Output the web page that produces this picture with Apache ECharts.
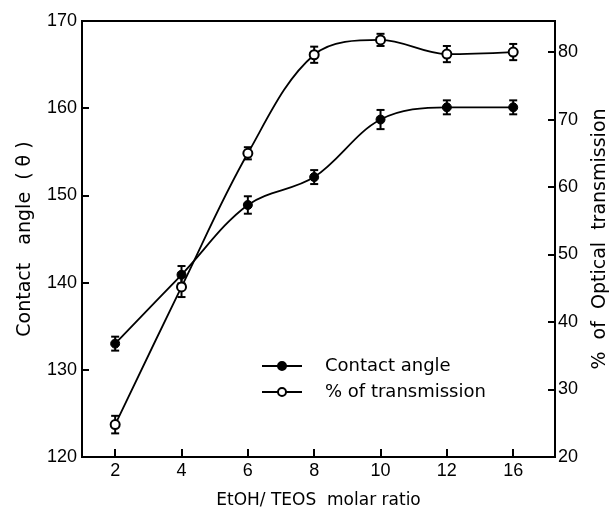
<!DOCTYPE html>
<html>
<head>
<meta charset="utf-8">
<script src="https://cdn.jsdelivr.net/npm/echarts@6/dist/echarts.min.js"></script>
<style>
  html, body { margin: 0; padding: 0; background: #fff; }
  #chart { width: 610px; height: 510px; }
</style>
</head>
<body>
<div id="chart"></div>
<script>
// EtOH/TEOS molar ratio (placed evenly, like the original plot)
var categories = ['2', '4', '6', '8', '10', '12', '16']
// contact angle (left axis) and its error
var contactAngle = [133.0, 140.9, 148.9, 152.1, 158.7, 160.1, 160.1]
var contactErr = [0.8, 1.0, 1.0, 0.8, 1.1, 0.8, 0.8]
// % of optical transmission (right axis) and its error
var transmission = [24.8, 45.2, 65.0, 79.6, 81.8, 79.7, 80.0]
var transErr = [1.3, 1.5, 0.9, 1.2, 0.9, 1.2, 1.2]

var FONT = 'DejaVu Sans'
var TICKFONT = 'Liberation Sans'

function pairs (vals) {
  return vals.map(function (v, i) { return [i, v] })
}
function errData (vals, errs) {
  return vals.map(function (v, i) { return [i, v, errs[i]] })
}
function renderErr (params, api) {
  var x = api.value(0)
  var y = api.value(1)
  var e = api.value(2)
  var lo = api.coord([x, y - e])
  var hi = api.coord([x, y + e])
  var w = 4
  var st = { stroke: '#000', lineWidth: 2 }
  return {
    type: 'group',
    children: [
      { type: 'line', shape: { x1: lo[0], y1: lo[1], x2: hi[0], y2: hi[1] }, style: st },
      { type: 'line', shape: { x1: lo[0] - w, y1: lo[1], x2: lo[0] + w, y2: lo[1] }, style: st },
      { type: 'line', shape: { x1: hi[0] - w, y1: hi[1], x2: hi[0] + w, y2: hi[1] }, style: st }
    ]
  }
}

var idx = categories.map(function (c, i) { return i })

var chart = echarts.init(document.getElementById('chart'))
var option = {
  animation: false,
  textStyle: { fontFamily: FONT, color: '#000' },
  grid: {
    left: 82, right: 55, top: 21, bottom: 53,
    containLabel: false,
    outerBoundsMode: 'none',
    show: true, borderColor: '#000', borderWidth: 2
  },
  legend: {
    orient: 'vertical',
    left: 256,
    top: 352,
    itemWidth: 40,
    itemHeight: 10,
    itemGap: 8,
    textStyle: { fontFamily: FONT, fontSize: 18, color: '#000', padding: [0, 0, 0, 18] },
    data: ['Contact angle', '% of transmission']
  },
  xAxis: {
    type: 'value',
    min: -0.5,
    max: 6.63,
    interval: 1,
    name: 'EtOH/ TEOS  molar ratio',
    nameLocation: 'middle',
    nameGap: 35,
    nameTextStyle: { fontFamily: FONT, fontSize: 17, color: '#000' },
    axisLine: { onZero: false, lineStyle: { color: '#000', width: 2 } },
    axisTick: {
      inside: true, length: 8, lineStyle: { color: '#000', width: 2 },
      customValues: idx
    },
    axisLabel: {
      fontFamily: TICKFONT, fontSize: 18, color: '#000', margin: 5,
      customValues: idx,
      formatter: function (v) { return categories[Math.round(v)] }
    },
    splitLine: { show: false }
  },
  yAxis: [
    {
      type: 'value',
      min: 120,
      max: 170,
      interval: 10,
      name: 'Contact   angle  ( θ )',
      nameLocation: 'middle',
      nameGap: 47,
      nameRotate: 90,
      nameTextStyle: { fontFamily: FONT, fontSize: 19, color: '#000' },
      axisLine: { show: true, onZero: false, lineStyle: { color: '#000', width: 2 } },
      axisTick: { show: true, inside: true, length: 7, lineStyle: { color: '#000', width: 2 } },
      axisLabel: { fontFamily: TICKFONT, fontSize: 18, color: '#000', margin: 5 },
      splitLine: { show: false }
    },
    {
      type: 'value',
      position: 'right',
      min: 20,
      max: 84.6,
      interval: 10,
      name: '%  of  Optical  transmission',
      nameLocation: 'middle',
      nameGap: 36,
      nameRotate: 90,
      nameTextStyle: { fontFamily: FONT, fontSize: 19, color: '#000' },
      axisLine: { show: true, onZero: false, lineStyle: { color: '#000', width: 2 } },
      axisTick: { show: true, inside: true, length: 7, lineStyle: { color: '#000', width: 2 } },
      axisLabel: {
        fontFamily: TICKFONT, fontSize: 18, color: '#000', margin: 3,
        formatter: function (v) { return v % 10 === 0 ? String(v) : '' }
      },
      splitLine: { show: false }
    }
  ],
  series: [
    {
      type: 'custom',
      name: 'errA',
      yAxisIndex: 0,
      renderItem: renderErr,
      data: errData(contactAngle, contactErr),
      z: 1,
      silent: true
    },
    {
      type: 'custom',
      name: 'errT',
      yAxisIndex: 1,
      renderItem: renderErr,
      data: errData(transmission, transErr),
      z: 1,
      silent: true
    },
    {
      name: 'Contact angle',
      type: 'line',
      yAxisIndex: 0,
      data: pairs(contactAngle),
      smooth: 0.35,
      symbol: 'circle',
      symbolSize: 9,
      lineStyle: { color: '#000', width: 1.8 },
      itemStyle: { color: '#000', borderColor: '#000', borderWidth: 1 },
      z: 3
    },
    {
      name: '% of transmission',
      type: 'line',
      yAxisIndex: 1,
      data: pairs(transmission),
      smooth: 0.35,
      symbol: 'circle',
      symbolSize: 9,
      showAllSymbol: true,
      lineStyle: { color: '#000', width: 1.8 },
      itemStyle: { color: '#fff', borderColor: '#000', borderWidth: 2 },
      z: 3
    }
  ]
}
chart.setOption(option)
</script>
</body>
</html>
